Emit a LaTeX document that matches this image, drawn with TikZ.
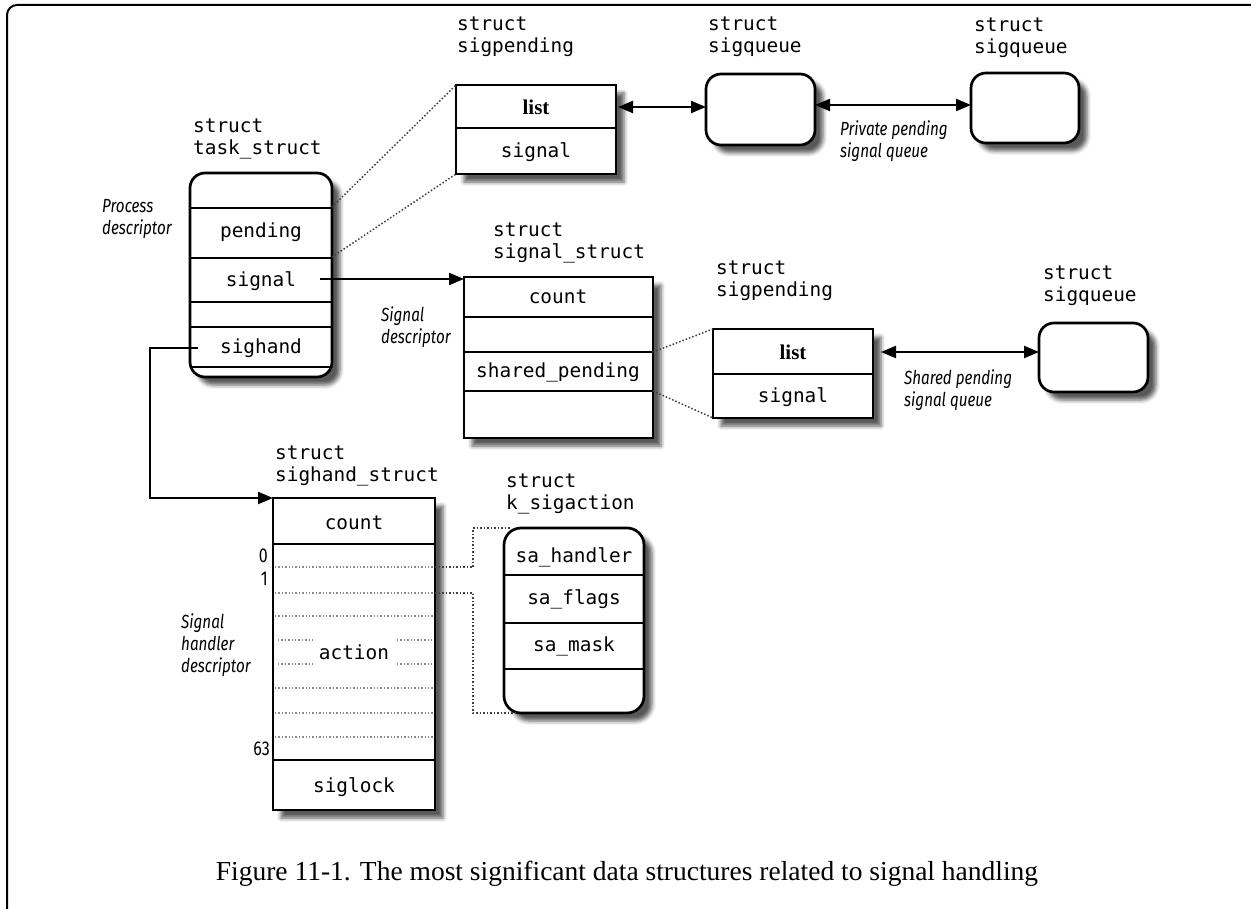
\documentclass[tikz,border=0pt]{standalone}
\usepackage{fontspec}
\usetikzlibrary{arrows.meta,shadows.blur}
\newfontfamily\monofam{DejaVu Sans Mono}
\newfontfamily\lblfam[FakeStretch=0.8]{Fira Sans}
\newfontfamily\serfam{Liberation Serif}
\newcommand\fmono{\monofam\fontsize{19.4}{22}\selectfont}
\newcommand\flbl{\lblfam\itshape\fontsize{19}{22}\selectfont}
\newcommand\fnum{\lblfam\fontsize{20}{22}\selectfont}
\newcommand\fcap{\serfam\fontsize{27.5}{30}\selectfont}
\newcommand\flist{\serfam\bfseries\fontsize{21}{22}\selectfont}
\begin{document}
\begin{tikzpicture}[x=1pt,y=-1pt,
  sbox/.style={draw, line width=2.7pt, fill=white, inner sep=0pt, outer sep=0pt, anchor=north west,
    blur shadow={shadow xshift=8pt, shadow yshift=-8pt, shadow blur radius=4pt, shadow opacity=65}},
  rbox/.style={sbox, rounded corners=15pt},
  rowline/.style={line width=2.3pt},
  field/.style={font=\fmono, inner sep=0pt},
  listf/.style={font=\flist, inner sep=0pt},
  title/.style={font=\fmono, align=left, anchor=west, inner sep=0pt},
  lbl/.style={font=\flbl, align=left, anchor=west, inner sep=0pt},
  idx/.style={font=\fnum, anchor=east, inner sep=0pt},
  arr/.style={line width=2.2pt, -{Triangle[length=15pt,width=12pt]}},
  darr/.style={line width=2.2pt, {Triangle[length=15pt,width=12pt]}-{Triangle[length=15pt,width=12pt]}},
  dotc/.style={line width=1.5pt, dotted, black!75},
  idot/.style={line width=1.4pt, dotted, black!45},
]
\useasboundingbox (0,0) rectangle (1251,909);
% outer frame
\draw[line width=2pt, rounded corners=10pt] (7,920) -- (7,5) -- (1265,5);

% ---------- task_struct ----------
\node[title] (t-ts) at (193,139) {struct\\task\_struct};
\node[rbox, minimum width=142pt, minimum height=204pt] (ts) at (190,173) {};
\begin{scope}
\clip[rounded corners=15pt] (190,173) rectangle (332,377);
\foreach \yy in {208,258,302,327,367} \draw[rowline] (190,\yy) -- (332,\yy);
\end{scope}
\node[field] (ts-pending) at (261,232) {pending};
\node[field] (ts-signal) at (261,281) {signal};
\node[field] (ts-sighand) at (261,348) {sighand};
\node[lbl] (l-proc) at (102,219) {Process\\descriptor};

% ---------- sigpending (private) ----------
\node[title] (t-sp1) at (457,37) {struct\\sigpending};
\node[sbox, minimum width=160pt, minimum height=89pt] (sp1) at (456,85) {};
\draw[rowline] (456,128) -- (616,128);
\node[listf] (sp1-list) at (536,107) {list};
\node[field] (sp1-signal) at (536,152) {signal};

% ---------- sigqueue 1, 2 ----------
\node[title] (t-sq1) at (708,37) {struct\\sigqueue};
\node[rbox, minimum width=109pt, minimum height=71pt] (sq1) at (706,74) {};
\node[title] (t-sq2) at (974,38) {struct\\sigqueue};
\node[rbox, minimum width=108pt, minimum height=70pt] (sq2) at (971,73) {};
\node[lbl] (l-priv) at (840,141) {Private pending\\signal queue};

% ---------- signal_struct ----------
\node[title] (t-ss) at (493,243) {struct\\signal\_struct};
\node[sbox, minimum width=189pt, minimum height=161pt] (ss) at (464,277) {};
\foreach \yy in {317,352,391} \draw[rowline] (464,\yy) -- (653,\yy);
\node[field] (ss-count) at (558,297) {count};
\node[field] (ss-shared) at (558,372) {shared\_pending};
\node[lbl] (l-sig) at (381,327) {Signal\\descriptor};

% ---------- sigpending (shared) ----------
\node[title] (t-sp2) at (716,281) {struct\\sigpending};
\node[sbox, minimum width=160pt, minimum height=89pt] (sp2) at (713,329) {};
\draw[rowline] (713,374) -- (873,374);
\node[listf] (sp2-list) at (793,352) {list};
\node[field] (sp2-signal) at (793,397) {signal};

% ---------- sigqueue 3 ----------
\node[title] (t-sq3) at (1043,286) {struct\\sigqueue};
\node[rbox, minimum width=109pt, minimum height=69pt] (sq3) at (1039,323) {};
\node[lbl] (l-shared) at (904,390) {Shared pending\\signal queue};

% ---------- sighand_struct ----------
\node[title] (t-sh) at (275,466) {struct\\sighand\_struct};
\node[sbox, minimum width=162pt, minimum height=312pt] (sh) at (273,498) {};
\draw[rowline] (273,544) -- (435,544);
\draw[rowline] (273,760) -- (435,760);
\foreach \yy in {567,593,616,688,713,737} \draw[idot] (275,\yy) -- (433,\yy);
\foreach \yy in {640,664} {\draw[idot] (278,\yy) -- (313,\yy); \draw[idot] (397,\yy) -- (433,\yy);}
\node[field] (sh-count) at (354,523) {count};
\node[field, fill=white, inner sep=3pt] (sh-action) at (354,652) {action};
\node[field] (sh-siglock) at (354,787) {siglock};
\node[idx] (i0) at (268,556) {0};
\node[idx] (i1) at (268,579) {1};
\node[idx] (i63) at (270,749) {63};
\node[lbl] (l-hand) at (181,645) {Signal\\handler\\descriptor};

% ---------- k_sigaction ----------
\node[title] (t-ks) at (506,494) {struct\\k\_sigaction};
\node[sbox, rounded corners=17pt, minimum width=140pt, minimum height=185pt] (ks) at (504,528) {};
\foreach \yy in {575,623,669} \draw[rowline] (504,\yy) -- (644,\yy);
\node[field] (ks-h) at (574,557) {sa\_handler};
\node[field] (ks-f) at (574,599) {sa\_flags};
\node[field] (ks-m) at (574,646) {sa\_mask};

% ---------- connectors ----------
\coordinate (tsA) at (332,207);
\coordinate (tsB) at (332,257);
\draw[dotc] (tsA) -- (sp1.north west);
\draw[dotc] (tsB) -- (sp1.south west);

\coordinate (sigstart) at (320,279);
\draw[arr] (sigstart) -- (sigstart -| ss.west);

\coordinate (shstart) at (198,348);
\coordinate (shcorner) at (150,348);
\draw[arr] (shstart) -- (shcorner) |- (sh.north west);

\draw[darr] ([xshift=2pt]sp1.east |- sp1-list) -- (sq1.west |- sp1-list);
\coordinate (q12) at (815,105);
\draw[darr] (q12) -- (q12 -| sq2.west);

\coordinate (ssA) at (653,352);
\coordinate (ssB) at (653,391);
\draw[dotc] (ssA) -- (sp2.north west);
\draw[dotc] (ssB) -- (sp2.south west);

\draw[darr] ([xshift=8pt]sp2.east |- sp2-list) -- (sq3.west |- sp2-list);

\coordinate (sh0) at (435,567);
\coordinate (bend0) at (473,567);
\coordinate (sh1) at (435,593);
\coordinate (bend1) at (473,593);
\draw[dotc] (sh0) -- (bend0) |- ([xshift=6pt]ks.north west);
\draw[dotc] (sh1) -- (bend1) |- ([xshift=12pt]ks.south west);

% ---------- caption ----------
\node[font=\fcap, inner sep=0pt] (cap) at (627,874) {Figure 11-1. The most significant data structures related to signal handling};
\end{tikzpicture}
\end{document}
